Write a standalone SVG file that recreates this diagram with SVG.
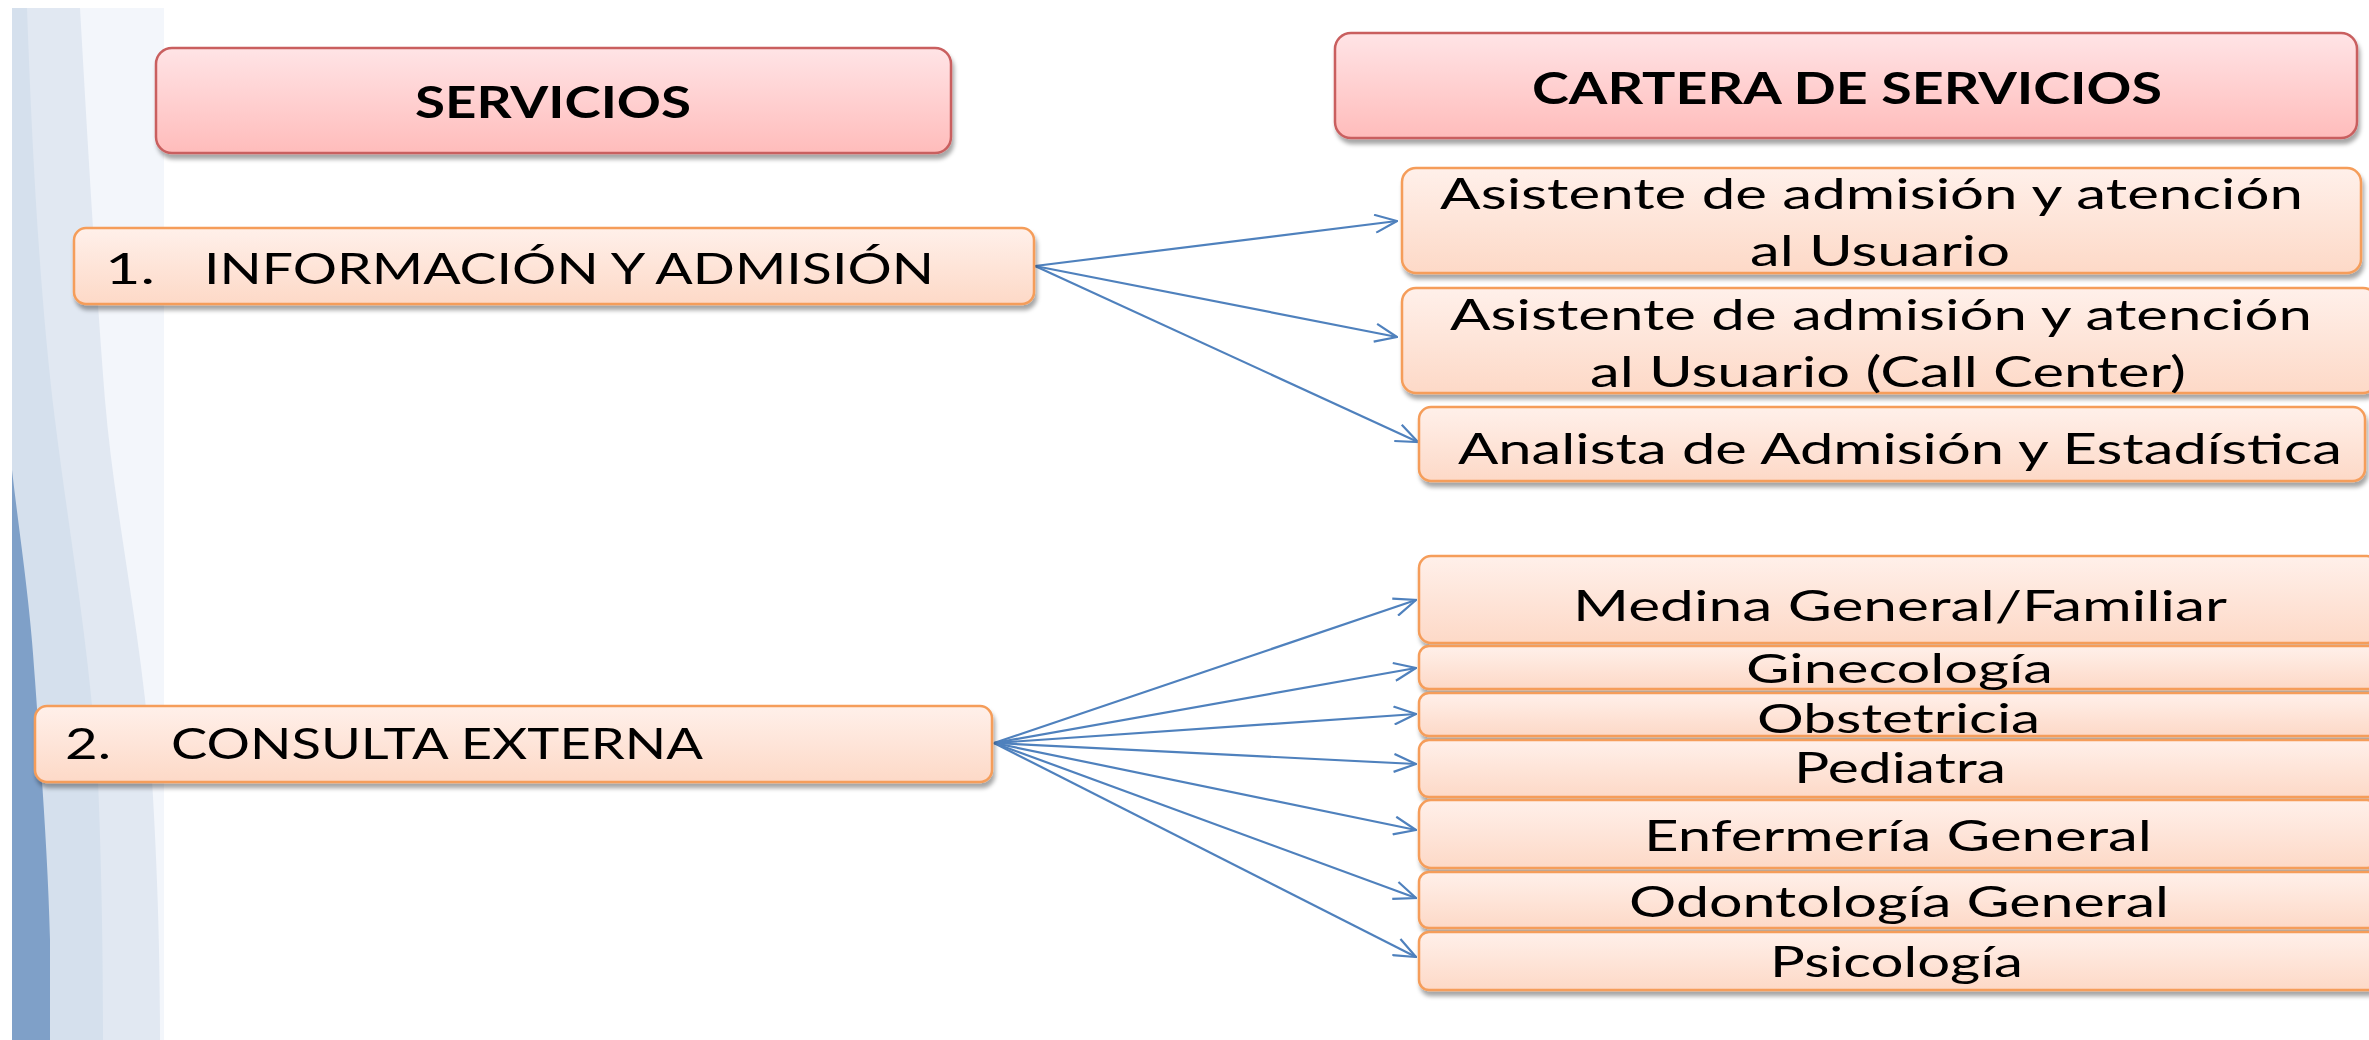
<svg xmlns="http://www.w3.org/2000/svg" width="2369" height="1040" viewBox="0 0 2369 1040">
<style>
.t{font-family:Lato,"Open Sans","Liberation Sans",sans-serif;font-size:43px;fill:#000}
.s{font-size:40px}
.b{font-weight:bold}
.or{fill:url(#gOr);stroke:#f59d5a;stroke-width:2.5;filter:url(#sh)}
.pk{fill:url(#gPk);stroke:#c95f5f;stroke-width:2.5;filter:url(#sh)}
.cn{fill:none;stroke:#4f81bd;stroke-width:2.2;marker-end:url(#ar)}
</style>
<defs>
<linearGradient id="gOr" x1="0" y1="0" x2="0" y2="1">
<stop offset="0" stop-color="#fff0ea"/>
<stop offset="1" stop-color="#fdd9c7"/>
</linearGradient>
<linearGradient id="gPk" x1="0" y1="0" x2="0" y2="1">
<stop offset="0" stop-color="#ffe4e6"/>
<stop offset="1" stop-color="#ffbcbb"/>
</linearGradient>
<filter id="sh" x="-5%" y="-20%" width="110%" height="150%">
<feDropShadow dx="2" dy="5" stdDeviation="2" flood-color="#000" flood-opacity="0.35"/>
</filter>
<marker id="ar" viewBox="0 0 24 20" refX="23" refY="10" markerWidth="24" markerHeight="20" markerUnits="userSpaceOnUse" orient="auto">
<path d="M1,1 L23,10 L1,19" fill="none" stroke="#4f81bd" stroke-width="2.2"/>
</marker>
</defs>
<rect width="2369" height="1040" fill="#ffffff"/>
<g id="background">
<rect x="12" y="8" width="152" height="1032" fill="#f3f6fb"/>
<path d="M12,8 L80,8 C88,150 97,300 105,400 C115,520 145,650 152,780 C158,880 160,960 160,1040 L12,1040 Z" fill="#e1e8f2"/>
<path d="M12,8 L27,8 C32,150 40,300 55,420 C70,540 90,650 98,780 C102,880 103,960 103,1040 L12,1040 Z" fill="#d5e0ed"/>
<path d="M12,470 C20,540 30,600 35,680 C42,780 48,860 50,940 L50,1040 L12,1040 Z" fill="#7fa0c8"/>
</g>
<g id="connectors">
<line class="cn" x1="1035" y1="266" x2="1397" y2="221"/>
<line class="cn" x1="1035" y1="266" x2="1397" y2="337"/>
<line class="cn" x1="1035" y1="266" x2="1418" y2="442"/>
<line class="cn" x1="994" y1="743" x2="1416" y2="600"/>
<line class="cn" x1="994" y1="743" x2="1416" y2="668"/>
<line class="cn" x1="994" y1="743" x2="1416" y2="714"/>
<line class="cn" x1="994" y1="743" x2="1416" y2="764"/>
<line class="cn" x1="994" y1="743" x2="1416" y2="830"/>
<line class="cn" x1="994" y1="743" x2="1416" y2="898"/>
<line class="cn" x1="994" y1="743" x2="1416" y2="957"/>
</g>
<g id="servicios">
<rect class="pk" x="156" y="48" width="795" height="105" rx="16"/>
<text class="t b" x="415" y="118" textLength="276" lengthAdjust="spacingAndGlyphs">SERVICIOS</text>
</g>
<g id="cartera">
<rect class="pk" x="1335" y="33" width="1022" height="105" rx="16"/>
<text class="t b" x="1532" y="104" textLength="630" lengthAdjust="spacingAndGlyphs">CARTERA DE SERVICIOS</text>
</g>
<g id="info-admision">
<rect class="or" x="74" y="228" width="960" height="76" rx="12"/>
<text class="t" x="105" y="284" textLength="50" lengthAdjust="spacingAndGlyphs">1.</text>
<text class="t" x="204" y="284" textLength="730" lengthAdjust="spacingAndGlyphs">INFORMACIÓN Y ADMISIÓN</text>
</g>
<g id="consulta-externa">
<rect class="or" x="35" y="706" width="957" height="76" rx="12"/>
<text class="t" x="65" y="759" textLength="46" lengthAdjust="spacingAndGlyphs">2.</text>
<text class="t" x="171" y="759" textLength="532" lengthAdjust="spacingAndGlyphs">CONSULTA EXTERNA</text>
</g>
<g id="asistente">
<rect class="or" x="1402" y="168" width="959" height="105" rx="14"/>
<text class="t" x="1440" y="209" textLength="863" lengthAdjust="spacingAndGlyphs">Asistente de admisión y atención</text>
<text class="t" x="1750" y="266" textLength="260" lengthAdjust="spacingAndGlyphs">al Usuario</text>
</g>
<g id="asistente-call">
<rect class="or" x="1402" y="288" width="975" height="105" rx="14"/>
<text class="t" x="1450" y="330" textLength="862" lengthAdjust="spacingAndGlyphs">Asistente de admisión y atención</text>
<text class="t" x="1590" y="387" textLength="596" lengthAdjust="spacingAndGlyphs">al Usuario (Call Center)</text>
</g>
<g id="analista">
<rect class="or" x="1419" y="407" width="946" height="74" rx="12"/>
<text class="t" x="1458" y="464" textLength="884" lengthAdjust="spacingAndGlyphs">Analista de Admisión y Estadística</text>
</g>
<g id="medicina">
<rect class="or" x="1419" y="556" width="960" height="87" rx="12"/>
<text class="t" x="1573" y="621" textLength="654" lengthAdjust="spacingAndGlyphs">Medina General/Familiar</text>
</g>
<g id="ginecologia">
<rect class="or" x="1419" y="646" width="960" height="43" rx="10"/>
<text class="t s" x="1746" y="683" textLength="307" lengthAdjust="spacingAndGlyphs">Ginecología</text>
</g>
<g id="obstetricia">
<rect class="or" x="1419" y="693" width="960" height="43" rx="10"/>
<text class="t s" x="1757" y="733" textLength="283" lengthAdjust="spacingAndGlyphs">Obstetricia</text>
</g>
<g id="pediatra">
<rect class="or" x="1419" y="740" width="960" height="57" rx="10"/>
<text class="t" x="1794" y="783" textLength="212" lengthAdjust="spacingAndGlyphs">Pediatra</text>
</g>
<g id="enfermeria">
<rect class="or" x="1419" y="800" width="960" height="68" rx="12"/>
<text class="t" x="1644" y="851" textLength="508" lengthAdjust="spacingAndGlyphs">Enfermería General</text>
</g>
<g id="odontologia">
<rect class="or" x="1419" y="872" width="960" height="56" rx="10"/>
<text class="t" x="1629" y="917" textLength="540" lengthAdjust="spacingAndGlyphs">Odontología General</text>
</g>
<g id="psicologia">
<rect class="or" x="1419" y="932" width="960" height="58" rx="10"/>
<text class="t" x="1770" y="977" textLength="253" lengthAdjust="spacingAndGlyphs">Psicología</text>
</g>
</svg>
